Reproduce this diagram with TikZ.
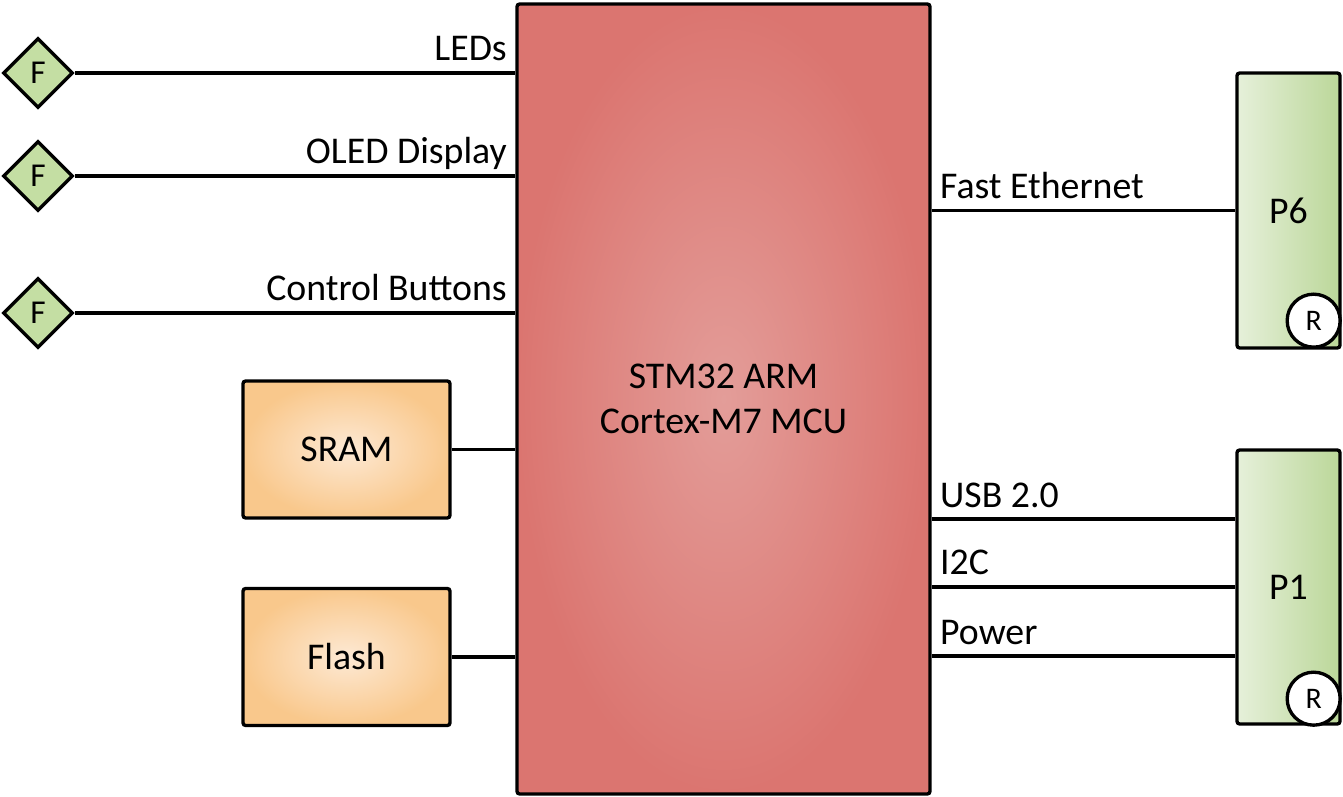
\documentclass[tikz,border=0pt]{standalone}
\usepackage{fontspec}
\setmainfont{Carlito}
\usetikzlibrary{positioning,shapes.geometric,calc}

\definecolor{mcured}{HTML}{DB7570}
\definecolor{mcupink}{HTML}{E39D99}
\definecolor{memlight}{HTML}{FDE9D4}
\definecolor{memdark}{HTML}{F9C88C}
\definecolor{portlight}{HTML}{E6F0DA}
\definecolor{portdark}{HTML}{BBD799}
\definecolor{fgreen}{HTML}{C4DEA3}

\tikzset{
	bigfont/.style={font=\fontsize{21.5}{25.6}\selectfont},
	block/.style={draw, line width=1.9pt, rounded corners=1.5pt, bigfont},
	mcubox/.style={block, inner color=mcupink, outer color=mcured, minimum width=8.26cm, minimum height=15.8cm, align=center},
	membox/.style={block, inner color=memlight, outer color=memdark, minimum width=4.14cm, minimum height=2.74cm},
	portbox/.style={block, left color=portlight, right color=portdark, minimum width=2.06cm, minimum height=5.5cm},
	fdiamond/.style={diamond, draw, line width=1.9pt, fill=fgreen, minimum width=1.4cm, minimum height=1.4cm, inner sep=0pt, font=\fontsize{19}{22}\selectfont},
	rcircle/.style={circle, draw, line width=1.9pt, fill=white, minimum size=1.06cm, inner sep=0pt, font=\fontsize{17}{19}\selectfont},
	bus/.style={line width=1.9pt},
	lblL/.style={anchor=base east, xshift=-0.02cm, yshift=0.24cm, bigfont},
	lblR/.style={anchor=base west, xshift=0.02cm, yshift=0.24cm, bigfont},
}

\begin{document}
\begin{tikzpicture}
	\useasboundingbox (0,0) rectangle (26.86,-15.94);
	%% MCU
	\node[mcubox] (mcu) at (14.47,-7.98) {STM32 ARM\\Cortex-M7 MCU};
	%% left side
	\node[fdiamond] (f1) at (0.76,-1.46) {F};
	\node[fdiamond, below =2.06cm of f1.center, anchor=center] (f2) {F};
	\node[fdiamond, below =4.8cm of f1.center, anchor=center] (f3) {F};
	\node[membox] (sram) at (6.93,-8.99) {SRAM};
	\node[membox, below =4.15cm of sram.center, anchor=center] (flash) {Flash};
	%% right side
	\node[portbox] (p6) at (25.77,-4.21) {P6};
	\node[portbox, minimum height=5.48cm] (p1) at (25.77,-11.74) {P1};
	\node[rcircle, above left =0.58cm and 0.56cm of p6.south east, anchor=center] (r6) {R};
	\node[rcircle, above left =0.54cm and 0.56cm of p1.south east, anchor=center] (r1) {R};
	\coordinate[above =1.36cm of p1.west] (usb);
	\coordinate[below =1.38cm of p1.west] (pwr);
	% connectors
	\draw[bus] (f1.east) -- (f1.east -| mcu.west) node[lblL] {LEDs};
	\draw[bus] (f2.east) -- (f2.east -| mcu.west) node[lblL] {OLED Display};
	\draw[bus] (f3.east) -- (f3.east -| mcu.west) node[lblL] {Control Buttons};
	\draw[bus] (sram.east) -- (sram.east -| mcu.west);
	\draw[bus] (flash.east) -- (flash.east -| mcu.west);
	\draw[bus] (p6.west -| mcu.east) node[lblR] {Fast Ethernet} -- (p6.west);
	\draw[bus] (usb -| mcu.east) node[lblR] {USB 2.0} -- (usb);
	\draw[bus] (p1.west -| mcu.east) node[lblR] {I2C} -- (p1.west);
	\draw[bus] (pwr -| mcu.east) node[lblR] {Power} -- (pwr);
\end{tikzpicture}
\end{document}
